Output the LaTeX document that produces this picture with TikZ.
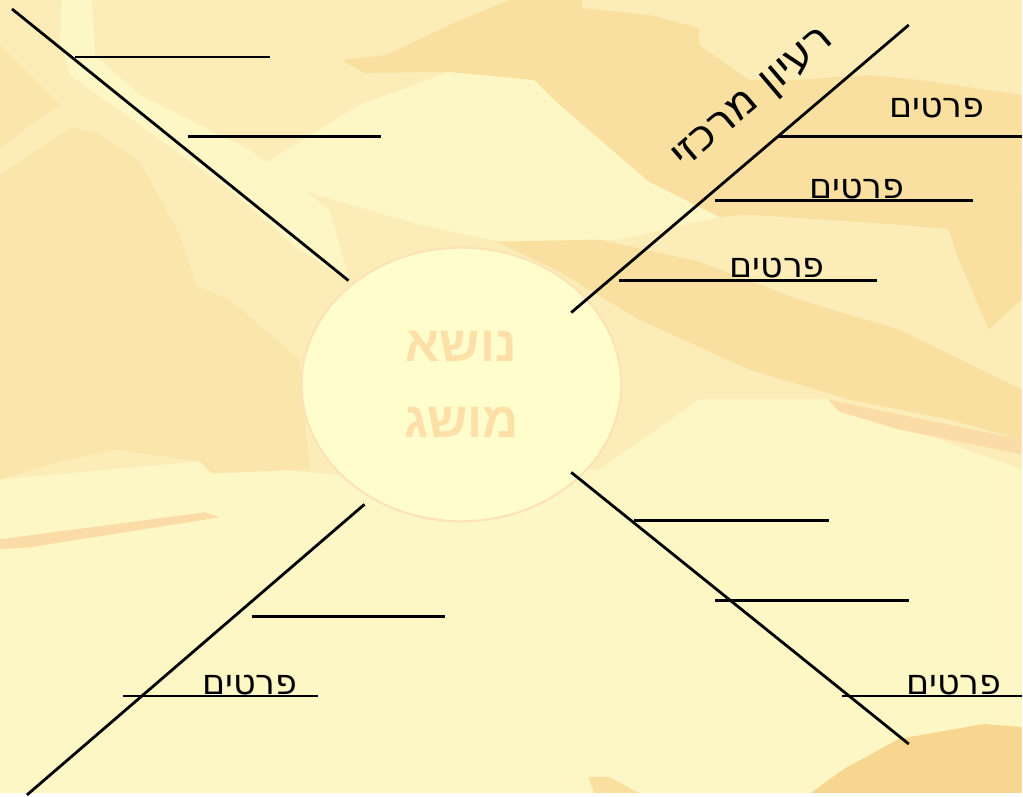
\documentclass[tikz,border=0pt]{standalone}
\usepackage{fontspec}
\newfontfamily\hebfont[Script=Hebrew]{DejaVu Sans}
\newfontfamily\hebbold[Script=Hebrew]{Liberation Sans}
\TeXXeTstate=1
\usetikzlibrary{shapes.geometric}
\definecolor{sandlight}{HTML}{FDF7C5}
\definecolor{sandbase}{HTML}{FCEDB8}
\definecolor{sandmid}{HTML}{FAE5AA}
\definecolor{sandtan}{HTML}{F9DFA0}
\definecolor{sanddark}{HTML}{F7D690}
\definecolor{sandstripe}{HTML}{FBDCA6}
\definecolor{topicfill}{HTML}{FFFDCB}
\definecolor{topicline}{HTML}{FCE2B4}
\definecolor{topictext}{HTML}{FDDFA8}
\tikzset{
    x=1pt, y=-1pt,
    spoke/.style={
        draw,
        line width=2.8pt
    },
    twig/.style={
        draw,
        line width=2.8pt
    },
    detail/.style={
        font=\hebfont\fontsize{35}{36}\selectfont,
        inner sep=0pt,
        anchor=base
    },
    idea/.style={
        font=\hebfont\fontsize{43}{44}\selectfont,
        inner sep=0pt,
        rotate=40.4
    },
    topic/.style={
        ellipse,
        draw=topicline,
        line width=2pt,
        fill=topicfill,
        minimum width=320pt,
        minimum height=274pt,
        inner sep=0pt,
        align=center,
        text=topictext,
        font=\hebbold\bfseries\fontsize{50}{77}\selectfont
    }
}

\begin{document}
\begin{tikzpicture}
    % background
    \fill[sandlight] (0,0) rectangle (1023,794);
    \fill[sandbase] (0,0) -- (1023,0) -- (1023,470) -- (830,400) -- (700,400) -- (600,470) -- (330,475) -- (200,462) -- (0,480) -- cycle;
    \fill[sandmid] (0,175) -- (70,128) -- (95,132) -- (140,162) -- (180,235) -- (197,287) -- (230,300) -- (300,360) -- (310,470) -- (212,474) -- (200,462) -- (115,450) -- (60,462) -- (0,480) -- cycle;
    \fill[sandmid] (0,45) -- (40,85) -- (60,105) -- (30,125) -- (0,150) -- cycle;
    \fill[sandlight] (62,0) -- (92,0) -- (95,55) -- (140,95) -- (250,150) -- (330,210) -- (350,282) -- (300,250) -- (230,190) -- (140,125) -- (70,75) -- (60,40) -- cycle;
    \fill[sandlight] (360,105) -- (450,72) -- (535,80) -- (555,100) -- (593,133) -- (650,182) -- (720,217) -- (620,240) -- (500,242) -- (420,225) -- (300,190) -- (255,170) -- cycle;
    \fill[sandtan] (342,60) -- (387,55) -- (450,25) -- (510,0) -- (583,0) -- (583,8) -- (650,15) -- (700,28) -- (700,45) -- (750,80) -- (800,80) -- (870,75) -- (920,80) -- (1023,95) -- (1023,250) -- (960,230) -- (900,225) -- (750,215) -- (720,217) -- (650,182) -- (593,133) -- (555,100) -- (535,80) -- (450,72) -- (365,73) -- cycle;
    \fill[sandtan] (497,242) -- (600,240) -- (700,262) -- (800,300) -- (900,330) -- (1023,390) -- (1023,440) -- (950,420) -- (850,400) -- (750,370) -- (640,320) -- (560,272) -- cycle;
    \fill[sandtan] (940,200) -- (1023,190) -- (1023,300) -- (990,330) -- (960,260) -- cycle;
    \fill[sandstripe] (0,540) -- (205,513) -- (220,518) -- (30,548) -- (0,550) -- cycle;
    \fill[sandstripe] (829,400) -- (900,415) -- (1023,440) -- (1023,455) -- (900,430) -- (840,412) -- cycle;
    \fill[sanddark] (812,794) -- (845,770) -- (900,740) -- (985,725) -- (1023,728) -- (1023,794) -- cycle;
    \fill[sandtan] (589,778) -- (610,778) -- (640,794) -- (595,794) -- cycle;

    % ends of the spokes and twigs
    \coordinate (nw) at (12,9);
    \coordinate (nwin) at (349,281);
    \coordinate (ne) at (910,25);
    \coordinate (nein) at (572,313);
    \coordinate (se) at (910,745);
    \coordinate (sein) at (572,473);
    \coordinate (sw) at (27,796);
    \coordinate (swin) at (365,505);

    \coordinate (nwa) at (75,57);   \coordinate (nwa') at (270,57);
    \coordinate (nwb) at (188,137); \coordinate (nwb') at (382,137);
    \coordinate (nea) at (778,137); \coordinate (nea') at (1023,137);
    \coordinate (neb) at (716,201); \coordinate (neb') at (974,201);
    \coordinate (nec) at (620,281); \coordinate (nec') at (878,281);
    \coordinate (sea) at (635,521); \coordinate (sea') at (830,521);
    \coordinate (seb) at (716,601); \coordinate (seb') at (910,601);
    \coordinate (sec) at (843,697); \coordinate (sec') at (1023,697);
    \coordinate (swa) at (252,617); \coordinate (swa') at (446,617);
    \coordinate (swb) at (123,697); \coordinate (swb') at (318,697);

    \node[topic] (t) at (462,385) {\beginR נושא\endR\\\beginR מושג\endR};

    \draw[spoke] (nw) -- (nwin);
    \draw[spoke] (nein) -- (ne);
    \draw[spoke] (sein) -- (se);
    \draw[spoke] (swin) -- (sw);

    \draw[twig] (nwa) -- (nwa');
    \draw[twig] (nwb) -- (nwb');
    \draw[twig] (nea) -- (nea');
    \draw[twig] (neb) -- (neb');
    \draw[twig] (nec) -- (nec');
    \draw[twig] (sea) -- (sea');
    \draw[twig] (seb) -- (seb');
    \draw[twig] (sec) -- (sec');
    \draw[twig] (swa) -- (swa');
    \draw[twig] (swb) -- (swb');

    \node[idea] (i) at (756,100) {\beginR רעיון מרכזי\endR};
    \node[detail] (p1) at (938,118) {\beginR פרטים\endR};
    \node[detail] (p2) at (858,199) {\beginR פרטים\endR};
    \node[detail] (p3) at (778,278) {\beginR פרטים\endR};
    \node[detail] (p4) at (955,695) {\beginR פרטים\endR};
    \node[detail] (p5) at (250,695) {\beginR פרטים\endR};
\end{tikzpicture}
\end{document}
